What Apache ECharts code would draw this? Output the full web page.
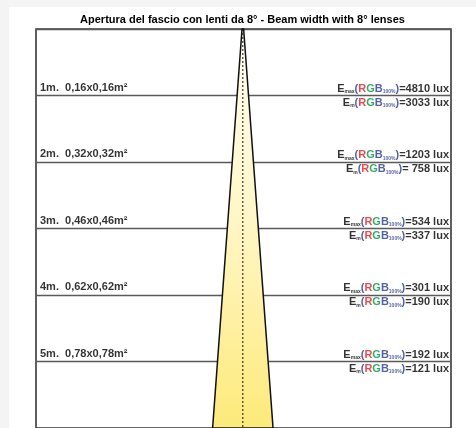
<!DOCTYPE html>
<html>
<head>
<meta charset="utf-8">
<script src="https://cdn.jsdelivr.net/npm/echarts@6/dist/echarts.min.js"></script>
<style>
  html, body { margin: 0; padding: 0; background: #f4f4f4; }
  #main { position: absolute; left: 9px; top: 7px; width: 467px; height: 421px; background: #fff; }
</style>
</head>
<body>
<div id="main"></div>
<script>
// distanze (m) e aree illuminate
var distances = [1, 2, 3, 4, 5];
var sizes = ['0,16x0,16', '0,32x0,32', '0,46x0,46', '0,62x0,62', '0,78x0,78'];
var eMax = ['4810', '1203', '534', '301', '192'];
var eMed = ['3033', ' 758', '337', '190', '121'];
// bordo del cono (mezza larghezza in m, distanza in m)
var coneRight = [[0, 0], [0.45, 6]];
var coneLeft = [[0, 0], [-0.45, 6]];

var X_MIN = -3.08, X_MAX = 3.1, Y_MAX = 6;

var myChart = echarts.init(document.getElementById('main'));

var richE = {
  e: { fontSize: 11, fontWeight: 'bold', color: '#000', lineHeight: 12 },
  s: { fontSize: 5, fontWeight: 'bold', color: '#000', lineHeight: 5, verticalAlign: 'bottom' },
  p: { fontSize: 11, fontWeight: 'bold', color: '#2b3990', lineHeight: 12 },
  r: { fontSize: 11, fontWeight: 'bold', color: '#e31e24', lineHeight: 12 },
  g: { fontSize: 11, fontWeight: 'bold', color: '#009640', lineHeight: 12 },
  b: { fontSize: 11, fontWeight: 'bold', color: '#2b3990', lineHeight: 12 },
  bs: { fontSize: 5, fontWeight: 'bold', color: '#2b3990', lineHeight: 5, verticalAlign: 'bottom' }
};

function eLabel(sub, val) {
  return '{e|E}{s|' + sub + '}{p|(}{r|R}{g|G}{b|B}{bs|100%}{p|)}{e|=' + val + ' lux}';
}

myChart.setOption({
  animation: false,
  textStyle: { fontFamily: 'Liberation Sans, Arial, sans-serif' },
  title: {
    text: 'Apertura del fascio con lenti da 8° - Beam width with 8° lenses',
    left: 'center',
    top: 7,
    padding: 0,
    textStyle: { fontSize: 11, fontWeight: 'bold', color: '#000' }
  },
  grid: {
    left: 27,
    top: 22,
    width: 415,
    height: 403,
    show: true,
    borderColor: '#3a3a3a',
    borderWidth: 1.6,
    backgroundColor: 'transparent'
  },
  xAxis: {
    type: 'value',
    min: X_MIN,
    max: X_MAX,
    axisLine: { show: false },
    axisTick: { show: false },
    axisLabel: { show: false },
    splitLine: { show: false }
  },
  yAxis: {
    type: 'value',
    inverse: true,
    min: 0,
    max: Y_MAX,
    interval: 1,
    axisLine: { show: false },
    axisTick: { show: false },
    axisLabel: { show: false },
    splitLine: { show: true, lineStyle: { color: '#5a5a5a', width: 1.3 } }
  },
  series: [
    {
      // cono di luce
      type: 'custom',
      z: 3,
      silent: true,
      renderItem: function (params, api) {
        var apex = api.coord(coneRight[0]);
        var br = api.coord(coneRight[1]);
        var bl = api.coord(coneLeft[1]);
        return {
          type: 'polygon',
          shape: { points: [[apex[0] - 0.8, apex[1]], [apex[0] + 0.8, apex[1]], br, bl] },
          style: {
            fill: new echarts.graphic.LinearGradient(0, 0, 0, 1, [
              { offset: 0, color: '#fffdf3' },
              { offset: 0.5, color: '#fff6c4' },
              { offset: 1, color: '#fdea7a' }
            ]),
            stroke: '#111',
            lineWidth: 1.5
          }
        };
      },
      data: [0]
    },
    {
      // asse del fascio
      type: 'line',
      z: 4,
      silent: true,
      symbol: 'none',
      data: [[0, 0], [0, Y_MAX]],
      lineStyle: { color: '#111', width: 1, type: [2, 2] }
    },
    {
      // etichette sinistra
      type: 'scatter',
      z: 5,
      symbolSize: 0,
      silent: true,
      data: distances.map(function (d) { return [X_MIN, d]; }),
      label: {
        show: true,
        position: 'right',
        distance: 4,
        offset: [0, -8],
        formatter: function (p) {
          return distances[p.dataIndex] + 'm.  ' + sizes[p.dataIndex] + 'm²';
        },
        fontSize: 11,
        fontWeight: 'bold',
        color: '#000'
      }
    },
    {
      // Emax
      type: 'scatter',
      z: 5,
      symbolSize: 0,
      silent: true,
      data: distances.map(function (d) { return [X_MAX, d]; }),
      label: {
        show: true,
        position: 'left',
        distance: 2,
        offset: [0, -7],
        align: 'right',
        formatter: function (p) { return eLabel('max', eMax[p.dataIndex]); },
        rich: richE
      }
    },
    {
      // Em
      type: 'scatter',
      z: 5,
      symbolSize: 0,
      silent: true,
      data: distances.map(function (d) { return [X_MAX, d]; }),
      label: {
        show: true,
        position: 'left',
        distance: 2,
        offset: [0, 7],
        align: 'right',
        formatter: function (p) { return eLabel('m', eMed[p.dataIndex]); },
        rich: richE
      }
    }
  ]
});

window.addEventListener('resize', function () { myChart.resize(); });
</script>
</body>
</html>
